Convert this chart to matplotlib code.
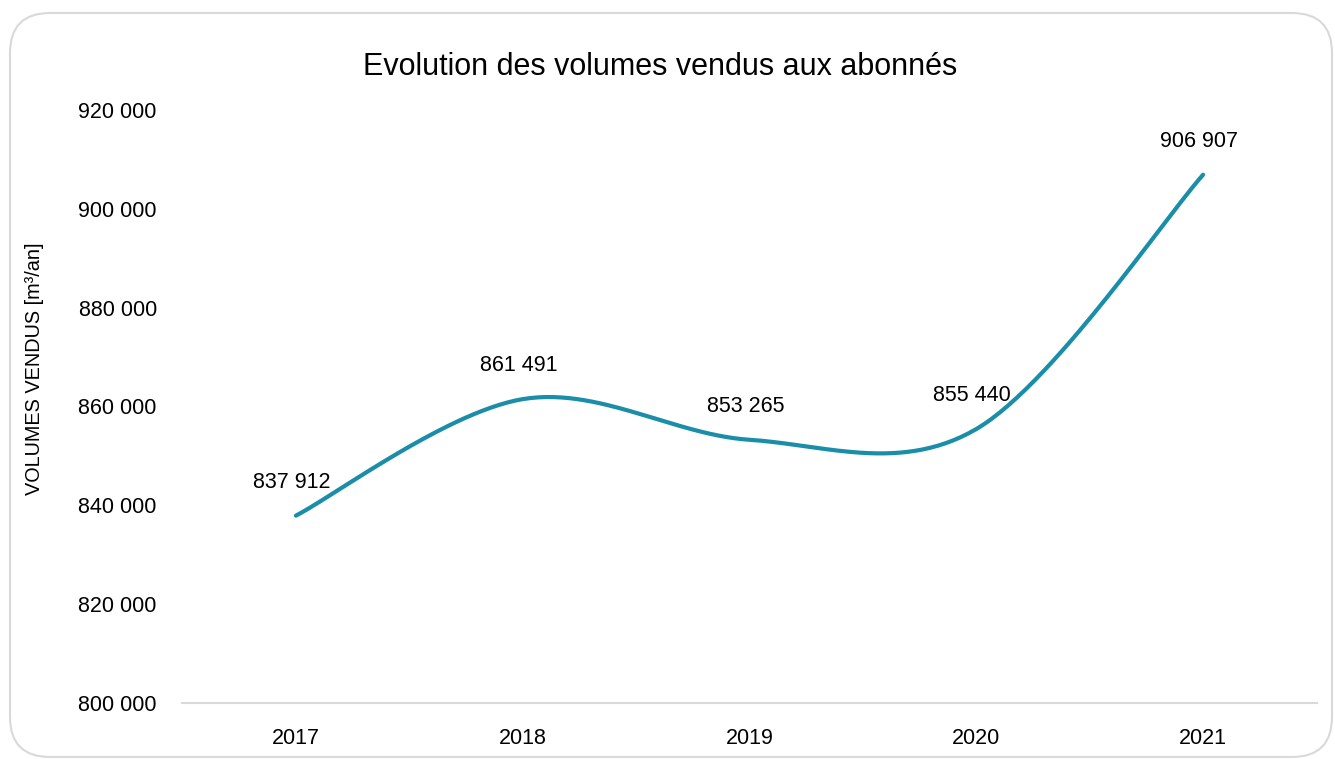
import matplotlib
matplotlib.use("Agg")
import matplotlib.pyplot as plt
from matplotlib.patches import FancyBboxPatch
from matplotlib import font_manager
import numpy as np

years = ["2017", "2018", "2019", "2020", "2021"]
volumes = [837912, 861491, 853265, 855440, 906907]
labels = ["837 912", "861 491", "853 265", "855 440", "906 907"]
yticks = [800000, 820000, 840000, 860000, 880000, 900000, 920000]
ytick_labels = ["800 000", "820 000", "840 000", "860 000", "880 000", "900 000", "920 000"]
title = "Evolution des volumes vendus aux abonnés"
ylabel = "VOLUMES VENDUS [m³/an]"

names = {f.name for f in font_manager.fontManager.ttflist}
fam = ["Liberation Sans Narrow", "Liberation Sans", "DejaVu Sans"] if "Liberation Sans Narrow" in names else ["Liberation Sans", "DejaVu Sans"]
plt.rcParams["font.family"] = fam

W, H = 1335, 759
fig = plt.figure(figsize=(W / 100, H / 100), dpi=100)

# rounded border
border = FancyBboxPatch((10 / W, 1 - 757 / H), (1332 - 10) / W, (757 - 13) / H,
                        boxstyle="round,pad=0,rounding_size=0.03",
                        transform=fig.transFigure, facecolor="none",
                        edgecolor="#d9d9d9", linewidth=1.5, zorder=-1,
                        mutation_aspect=W / H)
fig.patches.append(border)

ax = fig.add_axes([182.5 / W, 1 - 703 / H, (1316.5 - 182.5) / W, (703 - 110) / H])
ax.set_facecolor("none")

x = np.arange(len(years))
y = np.array(volumes, dtype=float)

# Excel-like smoothed line (Catmull-Rom as cubic Bezier)
pts = np.column_stack([x, y])
ext = np.vstack([pts[0], pts, pts[-1]])
curve = []
for i in range(len(pts) - 1):
    p0, p1, p2, p3 = ext[i], ext[i + 1], ext[i + 2], ext[i + 3]
    c1 = p1 + (p2 - p0) / 6
    c2 = p2 - (p3 - p1) / 6
    t = np.linspace(0, 1, 60)[:, None]
    seg = (1 - t) ** 3 * p1 + 3 * (1 - t) ** 2 * t * c1 + 3 * (1 - t) * t ** 2 * c2 + t ** 3 * p2
    curve.append(seg if i == 0 else seg[1:])
curve = np.vstack(curve)
ax.plot(curve[:, 0], curve[:, 1], color="#1a8ea8", linewidth=3, solid_capstyle="round")

for xi, yi, lab in zip(x, y, labels):
    ax.annotate(lab, (xi, yi), xytext=(-3, 24), textcoords="offset points",
                ha="center", va="center", fontsize=15.5, color="black")

ax.set_xlim(-0.5, len(years) - 0.5)
ax.set_ylim(800000, 920000)
ax.set_xticks(x)
ax.set_xticklabels(years)
ax.set_yticks(yticks)
ax.set_yticklabels(ytick_labels)
ax.tick_params(axis="both", length=0, labelsize=15.5, colors="black")
ax.tick_params(axis="y", pad=18.5)
ax.tick_params(axis="x", pad=18)
for s in ["top", "right", "left"]:
    ax.spines[s].set_visible(False)
ax.spines["bottom"].set_color("#d9d9d9")
ax.spines["bottom"].set_linewidth(1.5)

fig.text(660 / W, 1 - 67 / H, title, ha="center", va="center", fontsize=22, color="black")
fig.text(35 / W, 1 - 369 / H, ylabel, ha="center", va="center", rotation=90, fontsize=14.3, color="black")

fig.savefig("out.png", dpi=100)
